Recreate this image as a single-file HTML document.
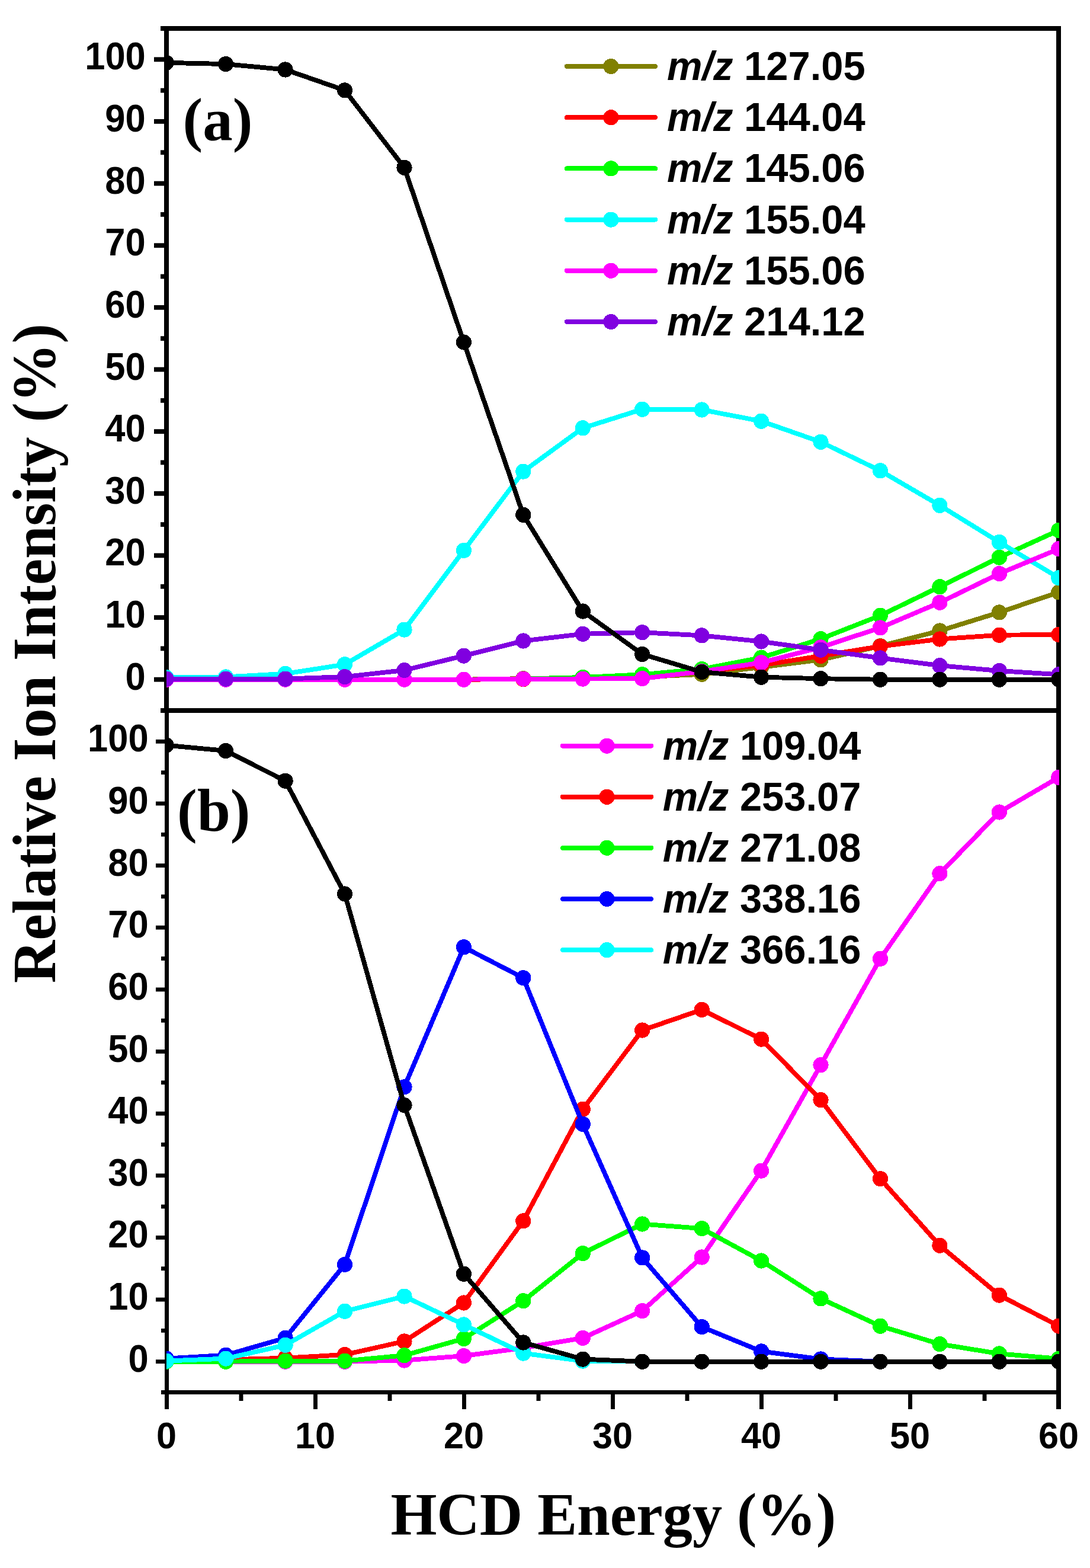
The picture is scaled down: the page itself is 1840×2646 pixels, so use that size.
<!DOCTYPE html>
<html><head><meta charset="utf-8"><title>HCD Energy</title>
<style>
html,body{margin:0;padding:0;background:#fff;}
svg{display:block;}
.tk{font-family:"Liberation Sans",Arial,sans-serif;font-weight:bold;fill:#000;}
.ty{font-size:64.9px;}
.tx{font-size:63.1px;}
.lg{font-family:"Liberation Sans",Arial,sans-serif;font-weight:bold;font-size:69.4px;fill:#000;}
.ti{font-family:"Liberation Serif","Times New Roman",serif;font-weight:bold;font-size:101px;fill:#000;}
</style></head>
<body>
<svg width="1840" height="2646" viewBox="0 0 1840 2646">
<defs>
<clipPath id="ca"><rect x="281" y="48" width="1507" height="1151"/></clipPath>
<clipPath id="cb"><rect x="281" y="1199" width="1507" height="1150.5"/></clipPath>
</defs>
<rect width="1840" height="2646" fill="#fff"/>
<g fill="#000">
<rect x="271" y="44" width="1520.00" height="8.00"/>
<rect x="277" y="44" width="8.00" height="1159.00"/>
<rect x="1783" y="44" width="8.00" height="2334.00"/>
<rect x="271" y="1195" width="1520.00" height="8.00"/>
<rect x="278" y="1195" width="7.00" height="1183.00"/>
<rect x="272" y="2346" width="1519.00" height="7.00"/>
<rect x="260" y="1142.78" width="21.00" height="7.80"/>
<rect x="260" y="1038.14" width="21.00" height="7.80"/>
<rect x="260" y="933.51" width="21.00" height="7.80"/>
<rect x="260" y="828.87" width="21.00" height="7.80"/>
<rect x="260" y="724.23" width="21.00" height="7.80"/>
<rect x="260" y="619.6" width="21.00" height="7.80"/>
<rect x="260" y="514.96" width="21.00" height="7.80"/>
<rect x="260" y="410.33" width="21.00" height="7.80"/>
<rect x="260" y="305.69" width="21.00" height="7.80"/>
<rect x="260" y="201.05" width="21.00" height="7.80"/>
<rect x="260" y="96.42" width="21.00" height="7.80"/>
<rect x="271" y="1090.46" width="10.00" height="7.80"/>
<rect x="271" y="985.82" width="10.00" height="7.80"/>
<rect x="271" y="881.19" width="10.00" height="7.80"/>
<rect x="271" y="776.55" width="10.00" height="7.80"/>
<rect x="271" y="671.92" width="10.00" height="7.80"/>
<rect x="271" y="567.28" width="10.00" height="7.80"/>
<rect x="271" y="462.64" width="10.00" height="7.80"/>
<rect x="271" y="358.01" width="10.00" height="7.80"/>
<rect x="271" y="253.37" width="10.00" height="7.80"/>
<rect x="271" y="148.74" width="10.00" height="7.80"/>
<rect x="263" y="2294.28" width="18.00" height="6.80"/>
<rect x="263" y="2189.64" width="18.00" height="6.80"/>
<rect x="263" y="2085.01" width="18.00" height="6.80"/>
<rect x="263" y="1980.37" width="18.00" height="6.80"/>
<rect x="263" y="1875.73" width="18.00" height="6.80"/>
<rect x="263" y="1771.1" width="18.00" height="6.80"/>
<rect x="263" y="1666.46" width="18.00" height="6.80"/>
<rect x="263" y="1561.83" width="18.00" height="6.80"/>
<rect x="263" y="1457.19" width="18.00" height="6.80"/>
<rect x="263" y="1352.55" width="18.00" height="6.80"/>
<rect x="263" y="1247.92" width="18.00" height="6.80"/>
<rect x="272" y="2241.96" width="9.00" height="6.80"/>
<rect x="272" y="2137.32" width="9.00" height="6.80"/>
<rect x="272" y="2032.69" width="9.00" height="6.80"/>
<rect x="272" y="1928.05" width="9.00" height="6.80"/>
<rect x="272" y="1823.42" width="9.00" height="6.80"/>
<rect x="272" y="1718.78" width="9.00" height="6.80"/>
<rect x="272" y="1614.14" width="9.00" height="6.80"/>
<rect x="272" y="1509.51" width="9.00" height="6.80"/>
<rect x="272" y="1404.87" width="9.00" height="6.80"/>
<rect x="272" y="1300.24" width="9.00" height="6.80"/>
<rect x="529.05" y="2350" width="6.90" height="28.00"/>
<rect x="780.05" y="2350" width="6.90" height="28.00"/>
<rect x="1031.05" y="2350" width="6.90" height="28.00"/>
<rect x="1282.05" y="2350" width="6.90" height="28.00"/>
<rect x="1533.05" y="2350" width="6.90" height="28.00"/>
<rect x="403.55" y="2350" width="6.90" height="14.00"/>
<rect x="654.55" y="2350" width="6.90" height="14.00"/>
<rect x="905.55" y="2350" width="6.90" height="14.00"/>
<rect x="1156.55" y="2350" width="6.90" height="14.00"/>
<rect x="1407.55" y="2350" width="6.90" height="14.00"/>
<rect x="1658.55" y="2350" width="6.90" height="14.00"/>
</g>
<g clip-path="url(#ca)" shape-rendering="crispEdges">
<polyline points="280.7,1146.7 381.1,1146.7 481.6,1146.7 582.0,1146.7 682.5,1146.7 782.9,1146.7 883.3,1145.1 983.8,1144.6 1084.2,1142.5 1184.7,1137.8 1285.1,1125.8 1385.5,1113.4 1486.0,1090.2 1586.4,1064.5 1686.9,1033.4 1787.3,999.4" fill="none" stroke="#808000" stroke-width="7.9" stroke-linejoin="round"/>
<g fill="#808000"><circle cx="280.7" cy="1146.7" r="13.1"/><circle cx="381.1" cy="1146.7" r="13.1"/><circle cx="481.6" cy="1146.7" r="13.1"/><circle cx="582.0" cy="1146.7" r="13.1"/><circle cx="682.5" cy="1146.7" r="13.1"/><circle cx="782.9" cy="1146.7" r="13.1"/><circle cx="883.3" cy="1145.1" r="13.1"/><circle cx="983.8" cy="1144.6" r="13.1"/><circle cx="1084.2" cy="1142.5" r="13.1"/><circle cx="1184.7" cy="1137.8" r="13.1"/><circle cx="1285.1" cy="1125.8" r="13.1"/><circle cx="1385.5" cy="1113.4" r="13.1"/><circle cx="1486.0" cy="1090.2" r="13.1"/><circle cx="1586.4" cy="1064.5" r="13.1"/><circle cx="1686.9" cy="1033.4" r="13.1"/><circle cx="1787.3" cy="999.4" r="13.1"/></g>
<polyline points="280.7,1146.7 381.1,1146.7 481.6,1146.7 582.0,1146.7 682.5,1146.7 782.9,1146.7 883.3,1146.2 983.8,1145.6 1084.2,1143.5 1184.7,1133.6 1285.1,1122.6 1385.5,1106.9 1486.0,1090.7 1586.4,1078.5 1686.9,1071.7 1787.3,1071.0" fill="none" stroke="#ff0000" stroke-width="7.9" stroke-linejoin="round"/>
<g fill="#ff0000"><circle cx="280.7" cy="1146.7" r="13.1"/><circle cx="381.1" cy="1146.7" r="13.1"/><circle cx="481.6" cy="1146.7" r="13.1"/><circle cx="582.0" cy="1146.7" r="13.1"/><circle cx="682.5" cy="1146.7" r="13.1"/><circle cx="782.9" cy="1146.7" r="13.1"/><circle cx="883.3" cy="1146.2" r="13.1"/><circle cx="983.8" cy="1145.6" r="13.1"/><circle cx="1084.2" cy="1143.5" r="13.1"/><circle cx="1184.7" cy="1133.6" r="13.1"/><circle cx="1285.1" cy="1122.6" r="13.1"/><circle cx="1385.5" cy="1106.9" r="13.1"/><circle cx="1486.0" cy="1090.7" r="13.1"/><circle cx="1586.4" cy="1078.5" r="13.1"/><circle cx="1686.9" cy="1071.7" r="13.1"/><circle cx="1787.3" cy="1071.0" r="13.1"/></g>
<polyline points="280.7,1146.7 381.1,1146.7 481.6,1146.7 582.0,1146.7 682.5,1146.7 782.9,1146.7 883.3,1145.6 983.8,1143.0 1084.2,1138.3 1184.7,1129.1 1285.1,1109.8 1385.5,1078.2 1486.0,1038.7 1586.4,990.2 1686.9,940.6 1787.3,894.9" fill="none" stroke="#00ff00" stroke-width="7.9" stroke-linejoin="round"/>
<g fill="#00ff00"><circle cx="280.7" cy="1146.7" r="13.1"/><circle cx="381.1" cy="1146.7" r="13.1"/><circle cx="481.6" cy="1146.7" r="13.1"/><circle cx="582.0" cy="1146.7" r="13.1"/><circle cx="682.5" cy="1146.7" r="13.1"/><circle cx="782.9" cy="1146.7" r="13.1"/><circle cx="883.3" cy="1145.6" r="13.1"/><circle cx="983.8" cy="1143.0" r="13.1"/><circle cx="1084.2" cy="1138.3" r="13.1"/><circle cx="1184.7" cy="1129.1" r="13.1"/><circle cx="1285.1" cy="1109.8" r="13.1"/><circle cx="1385.5" cy="1078.2" r="13.1"/><circle cx="1486.0" cy="1038.7" r="13.1"/><circle cx="1586.4" cy="990.2" r="13.1"/><circle cx="1686.9" cy="940.6" r="13.1"/><circle cx="1787.3" cy="894.9" r="13.1"/></g>
<polyline points="280.7,1143.2 381.1,1142.4 481.6,1136.9 582.0,1121.3 682.5,1062.6 782.9,928.9 883.3,795.6 983.8,722.3 1084.2,690.7 1184.7,691.5 1285.1,710.7 1385.5,745.8 1486.0,794.3 1586.4,852.9 1686.9,914.9 1787.3,975.1" fill="none" stroke="#00ffff" stroke-width="7.9" stroke-linejoin="round"/>
<g fill="#00ffff"><circle cx="280.7" cy="1143.2" r="13.1"/><circle cx="381.1" cy="1142.4" r="13.1"/><circle cx="481.6" cy="1136.9" r="13.1"/><circle cx="582.0" cy="1121.3" r="13.1"/><circle cx="682.5" cy="1062.6" r="13.1"/><circle cx="782.9" cy="928.9" r="13.1"/><circle cx="883.3" cy="795.6" r="13.1"/><circle cx="983.8" cy="722.3" r="13.1"/><circle cx="1084.2" cy="690.7" r="13.1"/><circle cx="1184.7" cy="691.5" r="13.1"/><circle cx="1285.1" cy="710.7" r="13.1"/><circle cx="1385.5" cy="745.8" r="13.1"/><circle cx="1486.0" cy="794.3" r="13.1"/><circle cx="1586.4" cy="852.9" r="13.1"/><circle cx="1686.9" cy="914.9" r="13.1"/><circle cx="1787.3" cy="975.1" r="13.1"/></g>
<polyline points="280.7,1146.7 381.1,1146.7 481.6,1146.7 582.0,1146.7 682.5,1146.7 782.9,1146.7 883.3,1145.6 983.8,1145.6 1084.2,1145.1 1184.7,1133.1 1285.1,1118.3 1385.5,1092.3 1486.0,1059.4 1586.4,1016.8 1686.9,968.1 1787.3,926.2" fill="none" stroke="#ff00ff" stroke-width="7.9" stroke-linejoin="round"/>
<g fill="#ff00ff"><circle cx="280.7" cy="1146.7" r="13.1"/><circle cx="381.1" cy="1146.7" r="13.1"/><circle cx="481.6" cy="1146.7" r="13.1"/><circle cx="582.0" cy="1146.7" r="13.1"/><circle cx="682.5" cy="1146.7" r="13.1"/><circle cx="782.9" cy="1146.7" r="13.1"/><circle cx="883.3" cy="1145.6" r="13.1"/><circle cx="983.8" cy="1145.6" r="13.1"/><circle cx="1084.2" cy="1145.1" r="13.1"/><circle cx="1184.7" cy="1133.1" r="13.1"/><circle cx="1285.1" cy="1118.3" r="13.1"/><circle cx="1385.5" cy="1092.3" r="13.1"/><circle cx="1486.0" cy="1059.4" r="13.1"/><circle cx="1586.4" cy="1016.8" r="13.1"/><circle cx="1686.9" cy="968.1" r="13.1"/><circle cx="1787.3" cy="926.2" r="13.1"/></g>
<polyline points="280.7,1145.6 381.1,1145.6 481.6,1145.6 582.0,1142.1 682.5,1131.0 782.9,1106.6 883.3,1081.5 983.8,1069.8 1084.2,1067.2 1184.7,1072.4 1285.1,1082.5 1385.5,1096.7 1486.0,1110.4 1586.4,1123.1 1686.9,1132.0 1787.3,1138.3" fill="none" stroke="#8000e0" stroke-width="7.9" stroke-linejoin="round"/>
<g fill="#8000e0"><circle cx="280.7" cy="1145.6" r="13.1"/><circle cx="381.1" cy="1145.6" r="13.1"/><circle cx="481.6" cy="1145.6" r="13.1"/><circle cx="582.0" cy="1142.1" r="13.1"/><circle cx="682.5" cy="1131.0" r="13.1"/><circle cx="782.9" cy="1106.6" r="13.1"/><circle cx="883.3" cy="1081.5" r="13.1"/><circle cx="983.8" cy="1069.8" r="13.1"/><circle cx="1084.2" cy="1067.2" r="13.1"/><circle cx="1184.7" cy="1072.4" r="13.1"/><circle cx="1285.1" cy="1082.5" r="13.1"/><circle cx="1385.5" cy="1096.7" r="13.1"/><circle cx="1486.0" cy="1110.4" r="13.1"/><circle cx="1586.4" cy="1123.1" r="13.1"/><circle cx="1686.9" cy="1132.0" r="13.1"/><circle cx="1787.3" cy="1138.3" r="13.1"/></g>
<polyline points="280.7,105.8 381.1,108.1 481.6,117.5 582.0,152.4 682.5,282.8 782.9,577.5 883.3,868.8 983.8,1031.5 1084.2,1104.0 1184.7,1134.0 1285.1,1142.7 1385.5,1145.2 1486.0,1146.7 1586.4,1146.7 1686.9,1146.7 1787.3,1146.7" fill="none" stroke="#000000" stroke-width="7.9" stroke-linejoin="round"/>
<g fill="#000000"><circle cx="280.7" cy="105.8" r="13.1"/><circle cx="381.1" cy="108.1" r="13.1"/><circle cx="481.6" cy="117.5" r="13.1"/><circle cx="582.0" cy="152.4" r="13.1"/><circle cx="682.5" cy="282.8" r="13.1"/><circle cx="782.9" cy="577.5" r="13.1"/><circle cx="883.3" cy="868.8" r="13.1"/><circle cx="983.8" cy="1031.5" r="13.1"/><circle cx="1084.2" cy="1104.0" r="13.1"/><circle cx="1184.7" cy="1134.0" r="13.1"/><circle cx="1285.1" cy="1142.7" r="13.1"/><circle cx="1385.5" cy="1145.2" r="13.1"/><circle cx="1486.0" cy="1146.7" r="13.1"/><circle cx="1586.4" cy="1146.7" r="13.1"/><circle cx="1686.9" cy="1146.7" r="13.1"/><circle cx="1787.3" cy="1146.7" r="13.1"/></g>
</g>
<g clip-path="url(#cb)" shape-rendering="crispEdges">
<polyline points="280.7,2297.7 381.1,2297.7 481.6,2297.7 582.0,2297.7 682.5,2295.6 782.9,2288.1 883.3,2274.7 983.8,2257.9 1084.2,2212.1 1184.7,2121.5 1285.1,1975.6 1385.5,1797.1 1486.0,1617.8 1586.4,1474.1 1686.9,1370.5 1787.3,1311.8" fill="none" stroke="#ff00ff" stroke-width="7.9" stroke-linejoin="round"/>
<g fill="#ff00ff"><circle cx="280.7" cy="2297.7" r="13.1"/><circle cx="381.1" cy="2297.7" r="13.1"/><circle cx="481.6" cy="2297.7" r="13.1"/><circle cx="582.0" cy="2297.7" r="13.1"/><circle cx="682.5" cy="2295.6" r="13.1"/><circle cx="782.9" cy="2288.1" r="13.1"/><circle cx="883.3" cy="2274.7" r="13.1"/><circle cx="983.8" cy="2257.9" r="13.1"/><circle cx="1084.2" cy="2212.1" r="13.1"/><circle cx="1184.7" cy="2121.5" r="13.1"/><circle cx="1285.1" cy="1975.6" r="13.1"/><circle cx="1385.5" cy="1797.1" r="13.1"/><circle cx="1486.0" cy="1617.8" r="13.1"/><circle cx="1586.4" cy="1474.1" r="13.1"/><circle cx="1686.9" cy="1370.5" r="13.1"/><circle cx="1787.3" cy="1311.8" r="13.1"/></g>
<polyline points="280.7,2296.6 381.1,2294.5 481.6,2291.7 582.0,2286.0 682.5,2263.5 782.9,2198.5 883.3,2060.4 983.8,1871.8 1084.2,1738.5 1184.7,1703.9 1285.1,1753.6 1385.5,1856.1 1486.0,1989.2 1586.4,2101.8 1686.9,2185.6 1787.3,2237.7" fill="none" stroke="#ff0000" stroke-width="7.9" stroke-linejoin="round"/>
<g fill="#ff0000"><circle cx="280.7" cy="2296.6" r="13.1"/><circle cx="381.1" cy="2294.5" r="13.1"/><circle cx="481.6" cy="2291.7" r="13.1"/><circle cx="582.0" cy="2286.0" r="13.1"/><circle cx="682.5" cy="2263.5" r="13.1"/><circle cx="782.9" cy="2198.5" r="13.1"/><circle cx="883.3" cy="2060.4" r="13.1"/><circle cx="983.8" cy="1871.8" r="13.1"/><circle cx="1084.2" cy="1738.5" r="13.1"/><circle cx="1184.7" cy="1703.9" r="13.1"/><circle cx="1285.1" cy="1753.6" r="13.1"/><circle cx="1385.5" cy="1856.1" r="13.1"/><circle cx="1486.0" cy="1989.2" r="13.1"/><circle cx="1586.4" cy="2101.8" r="13.1"/><circle cx="1686.9" cy="2185.6" r="13.1"/><circle cx="1787.3" cy="2237.7" r="13.1"/></g>
<polyline points="280.7,2297.7 381.1,2297.7 481.6,2296.6 582.0,2296.6 682.5,2287.2 782.9,2259.0 883.3,2195.2 983.8,2115.1 1084.2,2065.5 1184.7,2073.1 1285.1,2127.5 1385.5,2191.4 1486.0,2237.7 1586.4,2268.1 1686.9,2284.4 1787.3,2292.8" fill="none" stroke="#00ff00" stroke-width="7.9" stroke-linejoin="round"/>
<g fill="#00ff00"><circle cx="280.7" cy="2297.7" r="13.1"/><circle cx="381.1" cy="2297.7" r="13.1"/><circle cx="481.6" cy="2296.6" r="13.1"/><circle cx="582.0" cy="2296.6" r="13.1"/><circle cx="682.5" cy="2287.2" r="13.1"/><circle cx="782.9" cy="2259.0" r="13.1"/><circle cx="883.3" cy="2195.2" r="13.1"/><circle cx="983.8" cy="2115.1" r="13.1"/><circle cx="1084.2" cy="2065.5" r="13.1"/><circle cx="1184.7" cy="2073.1" r="13.1"/><circle cx="1285.1" cy="2127.5" r="13.1"/><circle cx="1385.5" cy="2191.4" r="13.1"/><circle cx="1486.0" cy="2237.7" r="13.1"/><circle cx="1586.4" cy="2268.1" r="13.1"/><circle cx="1686.9" cy="2284.4" r="13.1"/><circle cx="1787.3" cy="2292.8" r="13.1"/></g>
<polyline points="280.7,2292.6 381.1,2286.8 481.6,2257.9 582.0,2133.9 682.5,1834.3 782.9,1598.3 883.3,1650.2 983.8,1897.0 1084.2,2122.4 1184.7,2239.1 1285.1,2280.4 1385.5,2293.5 1486.0,2297.7 1586.4,2297.7 1686.9,2297.7 1787.3,2297.7" fill="none" stroke="#0000ff" stroke-width="7.9" stroke-linejoin="round"/>
<g fill="#0000ff"><circle cx="280.7" cy="2292.6" r="13.1"/><circle cx="381.1" cy="2286.8" r="13.1"/><circle cx="481.6" cy="2257.9" r="13.1"/><circle cx="582.0" cy="2133.9" r="13.1"/><circle cx="682.5" cy="1834.3" r="13.1"/><circle cx="782.9" cy="1598.3" r="13.1"/><circle cx="883.3" cy="1650.2" r="13.1"/><circle cx="983.8" cy="1897.0" r="13.1"/><circle cx="1084.2" cy="2122.4" r="13.1"/><circle cx="1184.7" cy="2239.1" r="13.1"/><circle cx="1285.1" cy="2280.4" r="13.1"/><circle cx="1385.5" cy="2293.5" r="13.1"/><circle cx="1486.0" cy="2297.7" r="13.1"/><circle cx="1586.4" cy="2297.7" r="13.1"/><circle cx="1686.9" cy="2297.7" r="13.1"/><circle cx="1787.3" cy="2297.7" r="13.1"/></g>
<polyline points="280.7,2296.6 381.1,2292.6 481.6,2269.9 582.0,2212.8 682.5,2187.6 782.9,2235.4 883.3,2283.6 983.8,2296.6 1084.2,2297.7 1184.7,2297.7 1285.1,2297.7 1385.5,2297.7 1486.0,2297.7 1586.4,2297.7 1686.9,2297.7 1787.3,2297.7" fill="none" stroke="#00ffff" stroke-width="7.9" stroke-linejoin="round"/>
<g fill="#00ffff"><circle cx="280.7" cy="2296.6" r="13.1"/><circle cx="381.1" cy="2292.6" r="13.1"/><circle cx="481.6" cy="2269.9" r="13.1"/><circle cx="582.0" cy="2212.8" r="13.1"/><circle cx="682.5" cy="2187.6" r="13.1"/><circle cx="782.9" cy="2235.4" r="13.1"/><circle cx="883.3" cy="2283.6" r="13.1"/><circle cx="983.8" cy="2296.6" r="13.1"/><circle cx="1084.2" cy="2297.7" r="13.1"/><circle cx="1184.7" cy="2297.7" r="13.1"/><circle cx="1285.1" cy="2297.7" r="13.1"/><circle cx="1385.5" cy="2297.7" r="13.1"/><circle cx="1486.0" cy="2297.7" r="13.1"/><circle cx="1586.4" cy="2297.7" r="13.1"/><circle cx="1686.9" cy="2297.7" r="13.1"/><circle cx="1787.3" cy="2297.7" r="13.1"/></g>
<polyline points="280.7,1257.6 381.1,1267.0 481.6,1317.7 582.0,1508.5 682.5,1865.0 782.9,2149.7 883.3,2265.5 983.8,2293.6 1084.2,2297.7 1184.7,2297.7 1285.1,2297.7 1385.5,2297.7 1486.0,2297.7 1586.4,2297.7 1686.9,2297.7 1787.3,2297.7" fill="none" stroke="#000000" stroke-width="7.9" stroke-linejoin="round"/>
<g fill="#000000"><circle cx="280.7" cy="1257.6" r="13.1"/><circle cx="381.1" cy="1267.0" r="13.1"/><circle cx="481.6" cy="1317.7" r="13.1"/><circle cx="582.0" cy="1508.5" r="13.1"/><circle cx="682.5" cy="1865.0" r="13.1"/><circle cx="782.9" cy="2149.7" r="13.1"/><circle cx="883.3" cy="2265.5" r="13.1"/><circle cx="983.8" cy="2293.6" r="13.1"/><circle cx="1084.2" cy="2297.7" r="13.1"/><circle cx="1184.7" cy="2297.7" r="13.1"/><circle cx="1285.1" cy="2297.7" r="13.1"/><circle cx="1385.5" cy="2297.7" r="13.1"/><circle cx="1486.0" cy="2297.7" r="13.1"/><circle cx="1586.4" cy="2297.7" r="13.1"/><circle cx="1686.9" cy="2297.7" r="13.1"/><circle cx="1787.3" cy="2297.7" r="13.1"/></g>
</g>
<g class="tk">
<text class="ty" transform="translate(245.8,1163.7) scale(0.948,1)" text-anchor="end">0</text>
<text class="ty" transform="translate(245.8,1059.0) scale(0.948,1)" text-anchor="end">10</text>
<text class="ty" transform="translate(245.8,954.4) scale(0.948,1)" text-anchor="end">20</text>
<text class="ty" transform="translate(245.8,849.8) scale(0.948,1)" text-anchor="end">30</text>
<text class="ty" transform="translate(245.8,745.1) scale(0.948,1)" text-anchor="end">40</text>
<text class="ty" transform="translate(245.8,640.5) scale(0.948,1)" text-anchor="end">50</text>
<text class="ty" transform="translate(245.8,535.9) scale(0.948,1)" text-anchor="end">60</text>
<text class="ty" transform="translate(245.8,431.2) scale(0.948,1)" text-anchor="end">70</text>
<text class="ty" transform="translate(245.8,326.6) scale(0.948,1)" text-anchor="end">80</text>
<text class="ty" transform="translate(245.8,222.0) scale(0.948,1)" text-anchor="end">90</text>
<text class="ty" transform="translate(245.8,117.3) scale(0.948,1)" text-anchor="end">100</text>
<text class="ty" transform="translate(250.6,2314.7) scale(0.948,1)" text-anchor="end">0</text>
<text class="ty" transform="translate(250.6,2210.0) scale(0.948,1)" text-anchor="end">10</text>
<text class="ty" transform="translate(250.6,2105.4) scale(0.948,1)" text-anchor="end">20</text>
<text class="ty" transform="translate(250.6,2000.8) scale(0.948,1)" text-anchor="end">30</text>
<text class="ty" transform="translate(250.6,1896.1) scale(0.948,1)" text-anchor="end">40</text>
<text class="ty" transform="translate(250.6,1791.5) scale(0.948,1)" text-anchor="end">50</text>
<text class="ty" transform="translate(250.6,1686.9) scale(0.948,1)" text-anchor="end">60</text>
<text class="ty" transform="translate(250.6,1582.2) scale(0.948,1)" text-anchor="end">70</text>
<text class="ty" transform="translate(250.6,1477.6) scale(0.948,1)" text-anchor="end">80</text>
<text class="ty" transform="translate(250.6,1373.0) scale(0.948,1)" text-anchor="end">90</text>
<text class="ty" transform="translate(250.6,1268.3) scale(0.948,1)" text-anchor="end">100</text>
<text class="tx" transform="translate(281.0,2444.2) scale(0.969,1)" text-anchor="middle">0</text>
<text class="tx" transform="translate(532.0,2444.2) scale(0.969,1)" text-anchor="middle">10</text>
<text class="tx" transform="translate(783.0,2444.2) scale(0.969,1)" text-anchor="middle">20</text>
<text class="tx" transform="translate(1034.0,2444.2) scale(0.969,1)" text-anchor="middle">30</text>
<text class="tx" transform="translate(1285.0,2444.2) scale(0.969,1)" text-anchor="middle">40</text>
<text class="tx" transform="translate(1536.0,2444.2) scale(0.969,1)" text-anchor="middle">50</text>
<text class="tx" transform="translate(1787.0,2444.2) scale(0.969,1)" text-anchor="middle">60</text>
</g>
<line x1="956.75" y1="112.0" x2="1106.05" y2="112.0" stroke="#808000" stroke-width="7.9" stroke-linecap="round" shape-rendering="crispEdges"/>
<circle cx="1031.4" cy="112.0" r="13.1" fill="#808000" shape-rendering="crispEdges"/>
<text class="lg" transform="translate(1126.0,134.8) scale(0.964,1)"><tspan font-style="italic">m/z</tspan> 127.05</text>
<line x1="956.75" y1="198.2" x2="1106.05" y2="198.2" stroke="#ff0000" stroke-width="7.9" stroke-linecap="round" shape-rendering="crispEdges"/>
<circle cx="1031.4" cy="198.2" r="13.1" fill="#ff0000" shape-rendering="crispEdges"/>
<text class="lg" transform="translate(1126.0,221.0) scale(0.964,1)"><tspan font-style="italic">m/z</tspan> 144.04</text>
<line x1="956.75" y1="284.4" x2="1106.05" y2="284.4" stroke="#00ff00" stroke-width="7.9" stroke-linecap="round" shape-rendering="crispEdges"/>
<circle cx="1031.4" cy="284.4" r="13.1" fill="#00ff00" shape-rendering="crispEdges"/>
<text class="lg" transform="translate(1126.0,307.2) scale(0.964,1)"><tspan font-style="italic">m/z</tspan> 145.06</text>
<line x1="956.75" y1="370.6" x2="1106.05" y2="370.6" stroke="#00ffff" stroke-width="7.9" stroke-linecap="round" shape-rendering="crispEdges"/>
<circle cx="1031.4" cy="370.6" r="13.1" fill="#00ffff" shape-rendering="crispEdges"/>
<text class="lg" transform="translate(1126.0,393.5) scale(0.964,1)"><tspan font-style="italic">m/z</tspan> 155.04</text>
<line x1="956.75" y1="456.8" x2="1106.05" y2="456.8" stroke="#ff00ff" stroke-width="7.9" stroke-linecap="round" shape-rendering="crispEdges"/>
<circle cx="1031.4" cy="456.8" r="13.1" fill="#ff00ff" shape-rendering="crispEdges"/>
<text class="lg" transform="translate(1126.0,479.7) scale(0.964,1)"><tspan font-style="italic">m/z</tspan> 155.06</text>
<line x1="956.75" y1="543.0" x2="1106.05" y2="543.0" stroke="#8000e0" stroke-width="7.9" stroke-linecap="round" shape-rendering="crispEdges"/>
<circle cx="1031.4" cy="543.0" r="13.1" fill="#8000e0" shape-rendering="crispEdges"/>
<text class="lg" transform="translate(1126.0,565.9) scale(0.964,1)"><tspan font-style="italic">m/z</tspan> 214.12</text>
<line x1="949.85" y1="1258.7" x2="1099.25" y2="1258.7" stroke="#ff00ff" stroke-width="7.9" stroke-linecap="round" shape-rendering="crispEdges"/>
<circle cx="1024.5" cy="1258.7" r="13.1" fill="#ff00ff" shape-rendering="crispEdges"/>
<text class="lg" transform="translate(1118.8,1281.8) scale(0.964,1)"><tspan font-style="italic">m/z</tspan> 109.04</text>
<line x1="949.85" y1="1344.8" x2="1099.25" y2="1344.8" stroke="#ff0000" stroke-width="7.9" stroke-linecap="round" shape-rendering="crispEdges"/>
<circle cx="1024.5" cy="1344.8" r="13.1" fill="#ff0000" shape-rendering="crispEdges"/>
<text class="lg" transform="translate(1118.8,1367.9) scale(0.964,1)"><tspan font-style="italic">m/z</tspan> 253.07</text>
<line x1="949.85" y1="1430.9" x2="1099.25" y2="1430.9" stroke="#00ff00" stroke-width="7.9" stroke-linecap="round" shape-rendering="crispEdges"/>
<circle cx="1024.5" cy="1430.9" r="13.1" fill="#00ff00" shape-rendering="crispEdges"/>
<text class="lg" transform="translate(1118.8,1454.0) scale(0.964,1)"><tspan font-style="italic">m/z</tspan> 271.08</text>
<line x1="949.85" y1="1517.0" x2="1099.25" y2="1517.0" stroke="#0000ff" stroke-width="7.9" stroke-linecap="round" shape-rendering="crispEdges"/>
<circle cx="1024.5" cy="1517.0" r="13.1" fill="#0000ff" shape-rendering="crispEdges"/>
<text class="lg" transform="translate(1118.8,1540.1) scale(0.964,1)"><tspan font-style="italic">m/z</tspan> 338.16</text>
<line x1="949.85" y1="1603.1" x2="1099.25" y2="1603.1" stroke="#00ffff" stroke-width="7.9" stroke-linecap="round" shape-rendering="crispEdges"/>
<circle cx="1024.5" cy="1603.1" r="13.1" fill="#00ffff" shape-rendering="crispEdges"/>
<text class="lg" transform="translate(1118.8,1626.2) scale(0.964,1)"><tspan font-style="italic">m/z</tspan> 366.16</text>
<text class="ti" x="308.5" y="236">(a)</text>
<text class="ti" x="299" y="1402">(b)</text>
<text class="ti" style="font-size:102.3px" transform="translate(659.4,2589.9) scale(0.980,1)">HCD Energy (%)</text>
<text class="ti" style="font-size:102.7px" transform="translate(93.2,1659) rotate(-90) scale(0.973,1)">Relative Ion Intensity (%)</text>
</svg>
</body></html>
